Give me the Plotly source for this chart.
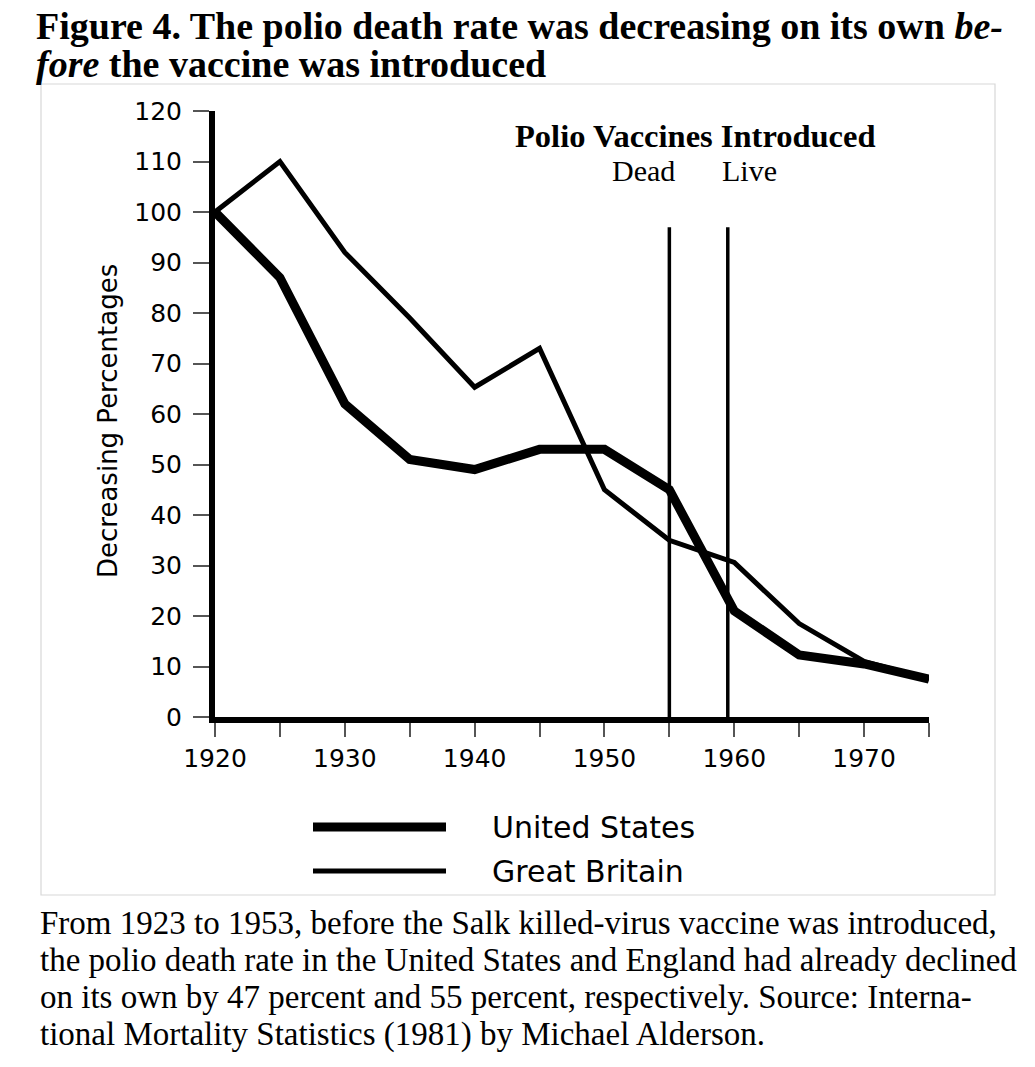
import plotly.graph_objects as go

# ---------------- data ----------------
years = [1920, 1925, 1930, 1935, 1940, 1945, 1950, 1955, 1960, 1965, 1970, 1975]
united_states = [100, 87, 62, 51, 49, 53, 53, 45, 21, 12.3, 10.5, 7.5]
great_britain = [100, 110, 92, 79, 65.3, 73, 45, 35, 30.6, 18.5, 11, 7.5]
series_names = ["United States", "Great Britain"]

vaccine_labels = ["Dead", "Live"]
vaccine_years = [1955, 1959.5]
vaccine_line_top = 97

x_tick_vals = [1920, 1925, 1930, 1935, 1940, 1945, 1950, 1955, 1960, 1965, 1970, 1975]
x_tick_text = ["1920", "", "1930", "", "1940", "", "1950", "", "1960", "", "1970", ""]
y_tick_vals = [0, 10, 20, 30, 40, 50, 60, 70, 80, 90, 100, 110, 120]
y_axis_title = "Decreasing Percentages"

title_line1 = "<b>Figure 4. The polio death rate was decreasing on its own <i>be-</i></b>"
title_line2 = "<b><i>fore</i> the vaccine was introduced</b>"
caption_lines = [
    "From 1923 to 1953, before the Salk killed-virus vaccine was introduced,",
    "the polio death rate in the United States and England had already declined",
    "on its own by 47 percent and 55 percent, respectively. Source: Interna-",
    "tional Mortality Statistics (1981) by Michael Alderson.",
]

# ---------------- layout geometry ----------------
W, H = 1035, 1067
L, R, T, B = 215, 106, 111, 350
PW, PH = W - L - R, H - T - B


def px(xp):
    return (xp - L) / PW


def py(yp):
    return (H - B - yp) / PH


SANS = "DejaVu Sans, Liberation Sans, Arial, sans-serif"
SERIF = "Liberation Serif, Times New Roman, serif"

fig = go.Figure()

fig.add_trace(go.Scatter(x=years, y=great_britain, mode="lines", name=series_names[1],
                         line=dict(color="black", width=5), showlegend=False))
fig.add_trace(go.Scatter(x=years, y=united_states, mode="lines", name=series_names[0],
                         line=dict(color="black", width=9), showlegend=False))

# vaccine introduction lines
for vy in vaccine_years:
    fig.add_shape(type="line", xref="x", yref="y", x0=vy, x1=vy, y0=0, y1=vaccine_line_top,
                  line=dict(color="black", width=3.5))

annotations = []
# title
annotations.append(dict(text=title_line1, xref="paper", yref="paper", x=px(34), y=py(26),
                        xanchor="left", yanchor="middle", showarrow=False,
                        font=dict(family=SERIF, size=38, color="black")))
annotations.append(dict(text=title_line2, xref="paper", yref="paper", x=px(34), y=py(64),
                        xanchor="left", yanchor="middle", showarrow=False,
                        font=dict(family=SERIF, size=38, color="black")))
# y axis title
annotations.append(dict(text=y_axis_title, xref="paper", yref="paper", x=px(108), y=py(421),
                        xanchor="center", yanchor="middle", textangle=-90, showarrow=False,
                        font=dict(family=SANS, size=26, color="black")))
# vaccine annotation
annotations.append(dict(text="<b>Polio Vaccines Introduced</b>", xref="paper", yref="paper",
                        x=px(695), y=py(136), xanchor="center", yanchor="middle", showarrow=False,
                        font=dict(family=SERIF, size=32.5, color="black")))
for lab, cx in zip(vaccine_labels, [643, 749]):
    annotations.append(dict(text=lab, xref="paper", yref="paper", x=px(cx), y=py(170),
                            xanchor="center", yanchor="middle", showarrow=False,
                            font=dict(family=SERIF, size=30, color="black")))
# legend (custom)
legend_rows = [(series_names[0], 827, 9), (series_names[1], 871, 5)]
for name, yy, wdt in legend_rows:
    fig.add_shape(type="line", xref="paper", yref="paper", x0=px(313), x1=px(446),
                  y0=py(yy), y1=py(yy), line=dict(color="black", width=wdt))
    annotations.append(dict(text=name, xref="paper", yref="paper", x=px(490), y=py(yy),
                            xanchor="left", yanchor="middle", showarrow=False,
                            font=dict(family=SANS, size=30, color="black")))
# caption
for i, line in enumerate(caption_lines):
    annotations.append(dict(text=line, xref="paper", yref="paper", x=px(38), y=py(923 + 37 * i),
                            xanchor="left", yanchor="middle", showarrow=False,
                            font=dict(family=SERIF, size=33, color="black")))

# border box around chart
fig.add_shape(type="rect", xref="paper", yref="paper", x0=px(41), x1=px(995),
              y0=py(895), y1=py(84), line=dict(color="#d8d8d8", width=1.2))

fig.update_layout(
    width=W, height=H,
    margin=dict(l=L, r=R, t=T, b=B, pad=0),
    paper_bgcolor="white", plot_bgcolor="white",
    showlegend=False,
    annotations=annotations,
    xaxis=dict(range=[1920, 1975], showgrid=False, zeroline=False,
               showline=True, linecolor="black", linewidth=6,
               ticks="outside", ticklen=14, tickwidth=1.5, tickcolor="#555",
               tickvals=x_tick_vals, ticktext=x_tick_text,
               tickfont=dict(family=SANS, size=25, color="black")),
    yaxis=dict(range=[0, 120], showgrid=False, zeroline=False,
               showline=True, linecolor="black", linewidth=6,
               ticks="outside", ticklen=16, tickwidth=1.5, tickcolor="#555",
               ticklabelstandoff=6,
               tickvals=y_tick_vals,
               tickfont=dict(family=SANS, size=25, color="black")),
)

fig.write_html("out.html", config={"displayModeBar": False},
               post_script="document.body.style.margin='0px';")
